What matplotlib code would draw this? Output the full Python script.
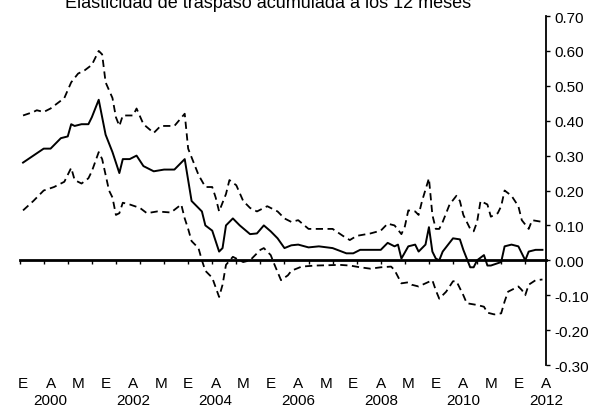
import matplotlib
matplotlib.use("Agg")
import matplotlib.pyplot as plt
import matplotlib.transforms as mtransforms

plt.rcParams['font.family'] = ['Liberation Sans', 'DejaVu Sans']

# months counted from January 2000 (0 = Ene 2000)
mes_central = [0, 3, 6, 8, 9, 11, 13, 14, 15, 17, 19, 20, 22, 24, 26, 28, 29, 31, 33, 35,
               38, 41, 44, 47, 48, 49, 52, 53, 55, 57, 58, 59, 61, 63, 66, 68, 70, 72, 74,
               76, 78, 80, 83, 86, 90, 94, 96, 98, 101, 104, 106, 108, 109, 110, 112, 114,
               115, 117, 118, 119, 120, 121, 122, 125, 127, 128, 130, 131, 132, 134, 135,
               136, 139, 140, 142, 144, 146, 147, 149, 151]
central = [0.28, 0.30, 0.32, 0.32, 0.33, 0.35, 0.355, 0.39, 0.385, 0.39, 0.39, 0.41, 0.46,
           0.36, 0.31, 0.25, 0.29, 0.29, 0.30, 0.27, 0.255, 0.26, 0.26, 0.29, 0.23, 0.17,
           0.14, 0.10, 0.085, 0.025, 0.035, 0.10, 0.12, 0.10, 0.075, 0.077, 0.10, 0.083,
           0.063, 0.035, 0.043, 0.045, 0.037, 0.04, 0.035, 0.02, 0.02, 0.03, 0.03, 0.03,
           0.05, 0.04, 0.045, 0.005, 0.04, 0.045, 0.025, 0.045, 0.095, 0.025, 0.005, 0.0,
           0.025, 0.063, 0.06, 0.03, -0.02, -0.02, 0.0, 0.015, -0.015, -0.015, -0.005,
           0.04, 0.045, 0.04, 0.0, 0.025, 0.03, 0.03]

mes_sup = [0, 3, 4, 6, 8, 10, 12, 14, 16, 18, 20, 22, 23, 24, 26, 27, 28, 29, 32, 33, 35,
           38, 40, 44, 47, 48, 51, 53, 55, 56, 57, 59, 60, 62, 64, 66, 68, 71, 74, 76, 78,
           80, 83, 86, 90, 93, 95, 97, 101, 104, 106, 108, 110, 111, 112, 114, 115, 116,
           118, 119, 120, 121, 122, 124, 126, 127, 128, 130, 131, 132, 133, 135, 136, 138,
           139, 140, 142, 144, 145, 147, 148, 151]
superior = [0.415, 0.425, 0.43, 0.425, 0.435, 0.45, 0.465, 0.51, 0.535, 0.545, 0.56, 0.60,
            0.59, 0.51, 0.465, 0.41, 0.385, 0.415, 0.415, 0.435, 0.39, 0.365, 0.385, 0.385,
            0.42, 0.32, 0.245, 0.21, 0.21, 0.18, 0.14, 0.19, 0.23, 0.215, 0.17, 0.15, 0.14,
            0.155, 0.14, 0.12, 0.11, 0.115, 0.09, 0.09, 0.09, 0.07, 0.058, 0.07, 0.077,
            0.085, 0.105, 0.10, 0.075, 0.097, 0.143, 0.14, 0.13, 0.17, 0.235, 0.13, 0.09,
            0.09, 0.11, 0.16, 0.185, 0.17, 0.13, 0.09, 0.083, 0.11, 0.17, 0.16, 0.125,
            0.135, 0.155, 0.20, 0.185, 0.155, 0.115, 0.09, 0.115, 0.11]

mes_inf = [0, 3, 6, 9, 12, 14, 15, 17, 19, 20, 22, 23, 25, 26, 27, 28, 29, 31, 34, 36, 39,
           43, 46, 47, 48, 49, 51, 52, 53, 55, 57, 58, 59, 61, 64, 66, 69, 70, 72, 73, 75,
           77, 78, 81, 85, 89, 92, 95, 98, 101, 104, 107, 108, 110, 112, 113, 115, 117,
           119, 120, 121, 123, 125, 126, 128, 129, 132, 134, 135, 137, 139, 140, 141, 144,
           145, 146, 147, 149, 151]
inferior = [0.143, 0.17, 0.20, 0.21, 0.225, 0.265, 0.23, 0.22, 0.235, 0.255, 0.31, 0.29,
            0.20, 0.18, 0.13, 0.135, 0.165, 0.16, 0.15, 0.135, 0.14, 0.137, 0.16, 0.12,
            0.09, 0.055, 0.035, 0.0, -0.03, -0.05, -0.105, -0.07, -0.013, 0.01, -0.005,
            0.0, 0.03, 0.035, 0.015, -0.01, -0.057, -0.043, -0.03, -0.018, -0.015, -0.014,
            -0.013, -0.015, -0.02, -0.024, -0.02, -0.018, -0.028, -0.066, -0.063, -0.07,
            -0.075, -0.066, -0.057, -0.086, -0.11, -0.09, -0.06, -0.06, -0.10, -0.123,
            -0.128, -0.133, -0.15, -0.155, -0.152, -0.118, -0.09, -0.075, -0.085, -0.10,
            -0.07, -0.057, -0.055]

etiquetas_mes = ['E', 'A', 'M'] * 6 + ['E', 'A']
anios = ['2000', '2002', '2004', '2006', '2008', '2010', '2012']

fig = plt.figure(figsize=(5.94, 4.10), dpi=100)
ax = fig.add_axes([0.033, 0.1073, 0.886, 0.8512])

ax.plot(mes_sup, superior, color='black', lw=1.3, ls=(0, (4, 2.5)))
ax.plot(mes_inf, inferior, color='black', lw=1.3, ls=(0, (4, 2.5)))
ax.plot(mes_central, central, color='black', lw=1.4)

ax.set_xlim(-1, 152)
ax.set_ylim(-0.30, 0.70)

# zero line acts as the x axis
for s in ['left', 'top']:
    ax.spines[s].set_visible(False)
ax.spines['bottom'].set_position(('data', 0))
ax.spines['bottom'].set_linewidth(2)
ax.spines['right'].set_linewidth(1.3)
ax.set_xticks(range(-1, 153, 7))
ax.tick_params(axis='x', direction='out', length=3, width=1, labelbottom=False)

ax.yaxis.tick_right()
ax.set_yticks([-0.3, -0.2, -0.1, 0.0, 0.1, 0.2, 0.3, 0.4, 0.5, 0.6, 0.7])
ax.set_yticklabels(['%.2f' % v for v in ax.get_yticks()])
ax.tick_params(axis='y', direction='out', length=3, width=1, labelsize=11, pad=3)

trans = mtransforms.blended_transform_factory(ax.transData, fig.transFigure)
for i, lab in enumerate(etiquetas_mes):
    ax.text(i * 8, 1 - 388 / 410, lab, transform=trans, ha='center', va='baseline',
            fontsize=11)
for i, an in enumerate(anios):
    ax.text(8 + i * 24, 1 - 405 / 410, an, transform=trans, ha='center', va='baseline',
            fontsize=11)

fig.text(0.452, 1 - 8 / 410, 'Elasticidad de traspaso acumulada a los 12 meses',
         ha='center', va='baseline', fontsize=13)

fig.savefig('out.png', dpi=100)
